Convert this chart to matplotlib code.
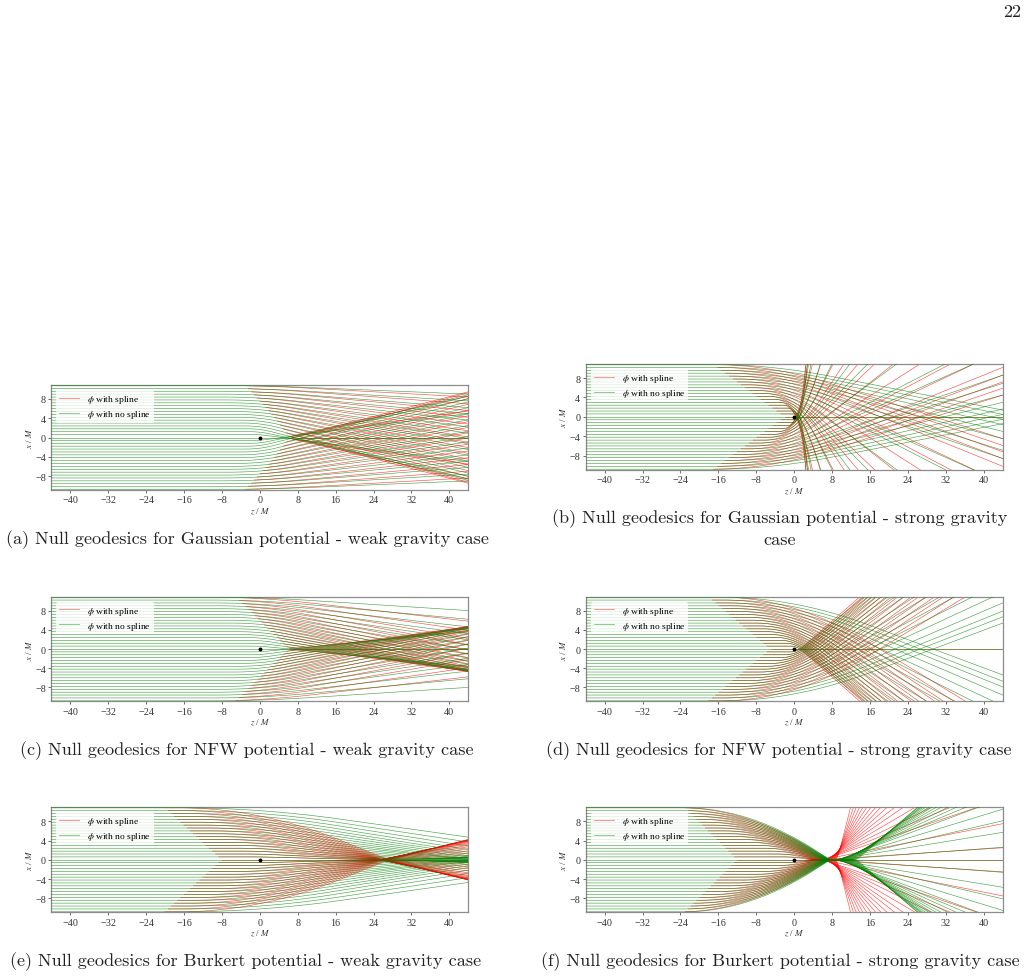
import numpy as np
import matplotlib
matplotlib.use("Agg")
import matplotlib.pyplot as plt

plt.rcParams["font.family"] = ["Liberation Serif", "DejaVu Serif"]
plt.rcParams["mathtext.fontset"] = "stix"
plt.rcParams["axes.unicode_minus"] = True

W, H = 1027, 979

# Impact parameters of the upper half of the ray bundle (the lower half mirrors it)
IMPACT = [0.6, 1.2, 1.8, 2.4, 3.0, 3.6, 4.2, 4.8, 5.4, 6.0, 6.6, 7.2, 7.8, 8.4, 9.0, 9.6, 10.2, 10.8]

# Height of each outgoing ray where it reaches (or extrapolates to) z/M = 44
A_GREEN_EXIT = [-5.0, -8.0, -8.9, -8.6, -7.4, -6.2, -4.9, -3.7, -2.5, -1.3, -0.2, 0.9, 2.2, 3.6, 4.9, 6.2, 7.6, 9.0]
A_RED_EXIT = [-5.5, -8.6, -9.5, -9.3, -8.1, -6.9, -5.7, -4.5, -3.3, -2.1, -1.0, 0.1, 1.4, 2.8, 4.2, 5.6, 7.0, 8.4]
A_KINK = [0] * 18

B_GREEN_EXIT = [-685, -507, -267, -133, -83, -53, -39, -27, -17, -13.6, -8.6, -6.9, -4.5, -3.0, -1.6, -0.5, 0.5, 1.4]
B_RED_EXIT = [-961, -634, -335, -216, -127, -79, -60, -46, -36, -28.6, -21.8, -16.6, -13.7, -10.2, -8.6, -7.2, -5.9, -4.5]
B_KINK = [2.2, 2.0, 1.6, 1.3, 1.0, 0.6, 0.2, -0.2, -0.6, -1.0, -1.5, -2.0, -2.5, -3.0, -3.5, -4.0, -4.5, -5.0]

C_GREEN_EXIT = [-3.6, -4.3, -4.5, -4.5, -4.4, -4.2, -3.8, -3.2, -2.6, -1.9, -1.1, -0.2, 0.8, 1.9, 3.2, 4.6, 6.2, 8.0]
C_RED_EXIT = [-3.8, -4.6, -4.7, -4.7, -4.6, -4.5, -4.3, -4.0, -3.6, -3.1, -2.5, -1.8, -1.0, -0.2, 0.9, 2.2, 3.9, 5.8]
C_KINK = [0] * 18

D_GREEN_EXIT = [-34.6, -33.6, -32.6, -31.6, -30.2, -28.6, -27.0, -25.0, -22.8, -20.6, -18.4, -16.3, -14.0, -11.8, -9.6, -7.9, -6.7, -5.4]
D_RED_EXIT = [-37.0, -36.4, -35.8, -35.0, -34.0, -33.0, -32.0, -30.8, -29.5, -28.0, -26.6, -25.0, -23.5, -22.0, -20.5, -19.0, -17.3, -15.6]
D_KINK = [0.6, 0.4, 0.2, 0.1, 0, 0, 0, 0, 0, 0, 0, 0, 0, 0, 0, 0, 0, 0]

E_GREEN_EXIT = [-0.45, -0.6, -0.6, -0.55, -0.45, -0.3, -0.15, 0.0, 0.1, 0.3, 0.55, 0.85, 1.2, 1.6, 2.15, 2.85, 3.7, 4.7]
E_RED_EXIT = [-0.45, -0.95, -1.4, -1.85, -2.3, -2.7, -3.0, -3.3, -3.5, -3.7, -3.85, -3.95, -4.0, -4.05, -4.1, -4.15, -4.2, -4.2]
E_KINK = [0] * 18
E_RED_CROSS = [24.5, 24.6, 24.7, 24.8, 24.9, 25.0, 25.1, 25.2, 25.3, 25.4, 25.5, 25.6, 25.7, 25.9, 26.1, 26.4, 26.8, 27.2]

F_GREEN_EXIT = [-2.6, -5.7, -8.1, -10.5, -12.8, -14.1, -15.3, -16.6, -17.8, -18.9, -20.0, -20.9, -22.0, -23.0, -23.8, -24.5, -25.5, -26.2]
F_RED_EXIT = [-2.5, -7.5, -12.7, -15.4, -18.2, -21.6, -25.1, -28.5, -32.5, -36.8, -41.6, -47.4, -54.3, -62.8, -73.0, -87.5, -106.0, -135.8]
F_GREEN_KINK = [0, -0.6, -1.2, -1.8, -2.5, -3.2, -3.9, -4.6, -5.2, -5.8, -6.4, -7.0, -7.5, -8.0, -8.4, -8.8, -9.2, -9.5]
F_RED_KINK = [-0.2, -0.7, -1.2, -2.0, -2.8, -3.6, -4.4, -5.2, -6.0, -6.6, -7.2, -7.8, -8.4, -8.8, -9.2, -9.6, -9.9, -10.2]
# Where the rays of the last panel reach the axis and where they leave it again
F_GREEN_CROSS = [6.3, 6.4, 6.5, 6.6, 6.7, 6.8, 6.85, 6.9, 6.95, 7.0, 7.1, 7.2, 7.25, 7.3, 7.4, 7.45, 7.5, 7.6]
F_GREEN_LEAVE = [8.1, 8.4, 8.7, 9.0, 9.3, 9.6, 9.9, 10.2, 10.5, 10.8, 11.1, 11.4, 11.7, 12.0, 12.3, 12.6, 12.9, 13.2]
F_RED_CROSS = [3.4, 3.6, 3.8, 4.0, 4.2, 4.4, 4.6, 4.8, 5.0, 5.2, 5.4, 5.6, 5.8, 6.0, 6.2, 6.4, 6.7, 7.0]
F_RED_LEAVE = [5.7, 5.9, 6.1, 6.3, 6.5, 6.7, 6.9, 7.1, 7.3, 7.5, 7.7, 7.9, 8.1, 8.3, 8.5, 8.7, 8.9, 9.1]

X_TICKS = [-40, -32, -24, -16, -8, 0, 8, 16, 24, 32, 40]
Y_TICKS = [-8, -4, 0, 4, 8]

Z_MAX = 44
Y_MAX = 10.9
GREEN = "#008000"
RED = "#ff0000"
LW = 0.44
RED_ALPHA = 0.72
GREEN_ALPHA = 0.72


def bezier(p0, p1, p2, n=40):
    t = np.linspace(0, 1, n)[:, None]
    return (1 - t) ** 2 * np.array(p0) + 2 * t * (1 - t) * np.array(p1) + t ** 2 * np.array(p2)


def ray(b, kink, x_exit, bend, cross=None, leave=None):
    """Flat incoming ray, a smooth turn, then a straight outgoing ray."""
    w = bend[0] + bend[1] * b
    pieces = [np.array([[-Z_MAX, b]])]
    if cross is None:
        slope = (x_exit - b) / (Z_MAX - kink)
        pieces.append(bezier((kink - w, b), (kink, b), (kink + w, b + slope * w)))
    else:
        slope = (0 - b) / (cross - kink)
        w_out = min(w, cross - kink - 0.8)
        pieces.append(bezier((kink - w, b), (kink, b), (kink + w_out, b + slope * w_out)))
        if leave is None:
            out = x_exit / (Z_MAX - cross)
            pieces.append(bezier((cross - 0.7, -slope * 0.7), (cross, 0), (cross + 0.7, out * 0.7), 12))
        else:
            # the ray runs close along the axis before it fans out
            out = x_exit / (Z_MAX - leave)
            pieces.append(bezier((cross - 0.7, -slope * 0.7), (cross, 0), (cross + 0.7, 0), 12))
            pieces.append(bezier((leave - 0.6, 0), (leave, 0), (leave + 0.6, out * 0.6), 12))
    pieces.append(np.array([[Z_MAX, x_exit]]))
    return np.vstack(pieces)


def draw_panel(box, green_exit, red_exit, green_kink, red_kink, bend, red_start,
               green_cross=None, red_cross=None, green_leave=None, red_leave=None):
    left, top, right, bottom = box
    ax = fig.add_axes([left / W, 1 - bottom / H, (right - left) / W, (bottom - top) / H])
    for i, b in enumerate(IMPACT):
        rc = None if red_cross is None else red_cross[i]
        rl = None if red_leave is None else red_leave[i]
        path = ray(b, red_kink[i], red_exit[i], bend, rc, rl)
        # the red ray hides under the green one until the two separate
        start_z = red_start[0] + (red_start[1] - red_start[0]) * b / IMPACT[-1]
        start_x = np.interp(start_z, path[:, 0], path[:, 1])
        path = np.vstack([[start_z, start_x], path[path[:, 0] > start_z]])
        for sign in (1, -1):
            ax.plot(path[:, 0], sign * path[:, 1], color=RED, lw=LW, alpha=RED_ALPHA, zorder=2)
    ax.plot([red_start[0], Z_MAX], [0, 0], color=RED, lw=LW, alpha=RED_ALPHA, zorder=2)
    for i, b in enumerate(IMPACT):
        gc = None if green_cross is None else green_cross[i]
        gl = None if green_leave is None else green_leave[i]
        path = ray(b, green_kink[i], green_exit[i], bend, gc, gl)
        for sign in (1, -1):
            ax.plot(path[:, 0], sign * path[:, 1], color=GREEN, lw=LW, alpha=GREEN_ALPHA, zorder=3)
    ax.plot([-Z_MAX, Z_MAX], [0, 0], color=GREEN, lw=LW, alpha=GREEN_ALPHA, zorder=3)
    ax.plot([0], [0], "o", color="black", ms=2.8, mew=0, zorder=5)

    ax.plot([], [], color=RED, lw=0.6, alpha=0.5, label="$\\phi$ with spline")
    ax.plot([], [], color=GREEN, lw=0.6, alpha=0.5, label="$\\phi$ with no spline")

    ax.set_xlim(-Z_MAX, Z_MAX)
    ax.set_ylim(-Y_MAX, Y_MAX)
    ax.set_xticks(X_TICKS)
    ax.set_yticks(Y_TICKS)
    ax.tick_params(labelsize=7.3, length=2, width=0.5, pad=1.8, colors="#333333")
    ax.set_xlabel("$z$ / $M$", fontsize=6.5, labelpad=1, color="#333333")
    ax.set_ylabel("$x$ / $M$", fontsize=6.5, labelpad=1, color="#333333")
    for spine in ax.spines.values():
        spine.set_color("#8c8c8c")
        spine.set_linewidth(0.9)
    leg = ax.legend(loc="upper left", fontsize=6.8, frameon=True, framealpha=0.8,
                    edgecolor="none", facecolor="white", borderaxespad=0.55,
                    handlelength=2.1, handletextpad=0.85, borderpad=0.3, labelspacing=0.3)
    leg.set_zorder(6)
    return ax


def caption(x, y, text):
    fig.text(x / W, 1 - y / H, text, ha="center", va="center", fontsize=13.1,
             family=["cmr10", "DejaVu Serif"], color="#222222")


fig = plt.figure(figsize=(W / 100, H / 100), dpi=100, facecolor="white")

draw_panel((51.3, 386, 468.3, 491), A_GREEN_EXIT, A_RED_EXIT, A_KINK, A_KINK, (1.0, 0.8), (8, -3))
draw_panel((585.7, 365, 1002.7, 470.7), B_GREEN_EXIT, B_RED_EXIT, B_KINK, B_KINK, (0.8, 1.1), (-2, -17))
draw_panel((51.3, 597.7, 468.3, 702.3), C_GREEN_EXIT, C_RED_EXIT, C_KINK, C_KINK, (1.0, 0.9), (7, -5))
draw_panel((585.7, 597.7, 1002.7, 702.3), D_GREEN_EXIT, D_RED_EXIT, D_KINK, D_KINK, (0.5, 1.4), (-5, -18))
draw_panel((51.3, 808.3, 468.3, 913.3), E_GREEN_EXIT, E_RED_EXIT, E_KINK, E_KINK, (1.0, 1.5), (-8, -20),
           red_cross=E_RED_CROSS)
draw_panel((585.7, 808.3, 1002.7, 913.3), F_GREEN_EXIT, F_RED_EXIT, F_GREEN_KINK, F_RED_KINK,
           (1.5, 1.15), (-12, -23), F_GREEN_CROSS, F_RED_CROSS, F_GREEN_LEAVE, F_RED_LEAVE)

caption(247, 540, "(a) Null geodesics for Gaussian potential - weak gravity case")
caption(780, 519, "(b) Null geodesics for Gaussian potential - strong gravity")
caption(780, 540, "case")
caption(247, 751, "(c) Null geodesics for NFW potential - weak gravity case")
caption(779, 751, "(d) Null geodesics for NFW potential - strong gravity case")
caption(246, 962, "(e) Null geodesics for Burkert potential - weak gravity case")
caption(780, 962, "(f) Null geodesics for Burkert potential - strong gravity case")
fig.text(1021 / W, 1 - 12 / H, "22", ha="right", va="center", fontsize=13.1,
         family=["cmr10", "DejaVu Serif"], color="#222222")

fig.savefig("out.png", dpi=100, facecolor="white")
